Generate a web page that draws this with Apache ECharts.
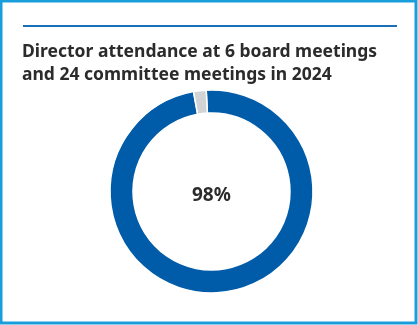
<!DOCTYPE html>
<html><head><meta charset="utf-8">
<script src="https://cdn.jsdelivr.net/npm/echarts@6/dist/echarts.min.js"></script>
<style>html,body{margin:0;padding:0;background:#fff}#c{width:418px;height:325px}</style>
</head><body><div id="c"></div>
<script>
const titleLines = ["Director attendance at 6 board meetings", "and 24 committee meetings in 2024"];
const categories = ["Attended", "Not attended"];
const values = [98, 2];
const centerLabel = "98%";
const colors = ["#005ca9", "#d2d3d5"];

const chart = echarts.init(document.getElementById('c'), null, {renderer: 'canvas'});
chart.setOption({
  animation: false,
  title: {
    text: titleLines.join("\n"),
    left: 22, top: 41, padding: 0,
    textStyle: {fontFamily: "Noto Sans", fontWeight: "bold", fontSize: 17.5, color: "#2b2b2b", lineHeight: 23}
  },
  graphic: [
    {type: 'rect', shape: {x: 1, y: 1, width: 415, height: 322}, style: {fill: 'none', stroke: '#1a9ddb', lineWidth: 3}},
    {type: 'rect', shape: {x: 23, y: 25, width: 374, height: 2}, style: {fill: '#1a6fb8'}},
    {type: 'text', left: 192, top: 186, style: {text: centerLabel, font: 'bold 19px "Noto Sans"', fill: '#2b2b2b'}}
  ],
  series: [{
    type: 'pie',
    center: [211.5, 191.5],
    radius: [78.5, 101.5],
    startAngle: 93,
    clockwise: true,
    label: {show: false},
    labelLine: {show: false},
    silent: true,
    itemStyle: {borderColor: '#fff', borderWidth: 1.5},
    data: categories.map((n, i) => ({name: n, value: values[i], itemStyle: {color: colors[i]}}))
  }]
});
</script></body></html>
